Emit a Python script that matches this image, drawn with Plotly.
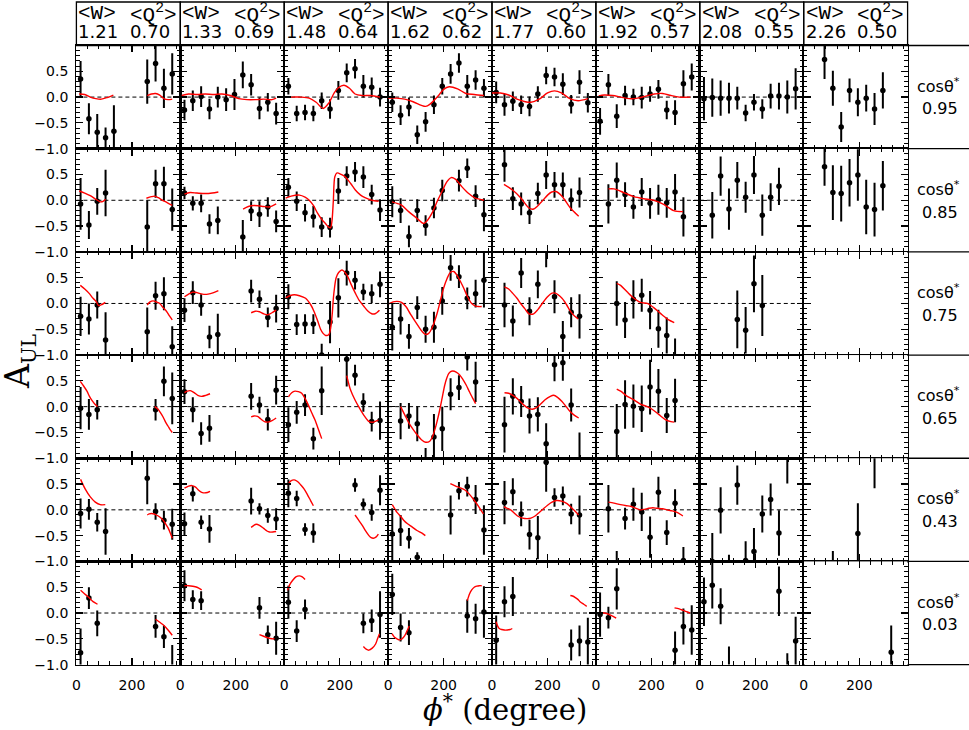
import plotly.graph_objects as go

N = None
PHI = [15, 45, 75, 105, 135, 165, 195, 225, 255, 285, 315, 345]
W_MEAN = ["1.21", "1.33", "1.48", "1.62", "1.77", "1.92", "2.08", "2.26"]
Q2_MEAN = ["0.70", "0.69", "0.64", "0.62", "0.60", "0.57", "0.55", "0.50"]
COS_THETA = ["0.95", "0.85", "0.75", "0.65", "0.43", "0.03"]
X_TICKS = [0, 200]
Y_TICKS = [-1.0, -0.5, 0.0, 0.5, 1.0]
Y_TICKTEXT = ["\u22121.0", "\u22120.5", "0.0", "0.5", ""]

# ---------------- cos(theta*) = 0.95 ----------------
A_095 = [
    [0.35, -0.42, -0.68, -0.79, -0.66, N, N, N, 0.30, 0.65, 0.17, 0.45],
    [-0.25, -0.07, 0.01, -0.23, 0.0, -0.05, 0.05, 0.43, 0.24, -0.22, -0.10, -0.32],
    [0.21, -0.32, -0.30, -0.32, -0.07, -0.23, 0.13, 0.47, 0.55, 0.21, 0.19, 0.0],
    [-0.10, -0.35, -0.19, -0.73, -0.48, -0.15, 0.21, 0.45, 0.66, 0.21, 0.33, 0.17],
    [0.09, -0.15, -0.08, -0.15, -0.18, 0.06, 0.42, 0.39, 0.25, -0.14, 0.29, -0.11],
    [-0.47, 0.24, -0.37, 0.03, 0.0, -0.01, 0.06, 0.15, -0.25, -0.30, 0.26, 0.39],
    [-0.03, -0.01, -0.02, -0.02, -0.02, -0.31, -0.10, -0.23, 0.02, 0.02, 0.0, 0.16],
    [N, N, 0.73, 0.17, -0.58, 0.13, -0.10, -0.02, -0.23, 0.13, N, N],
]
E_095 = [
    [0.35, 0.30, 0.35, 0.20, 0.50, N, N, N, 0.43, 0.35, 0.38, 0.40],
    [0.20, 0.20, 0.20, 0.20, 0.20, 0.22, 0.30, 0.26, 0.21, 0.21, 0.18, 0.21],
    [0.16, 0.15, 0.15, 0.15, 0.16, 0.19, 0.18, 0.18, 0.19, 0.22, 0.19, 0.18],
    [0.19, 0.19, 0.18, 0.18, 0.19, 0.18, 0.16, 0.19, 0.19, 0.22, 0.19, 0.18],
    [0.21, 0.21, 0.19, 0.18, 0.19, 0.15, 0.17, 0.18, 0.21, 0.18, 0.23, 0.19],
    [0.26, 0.21, 0.23, 0.19, 0.16, 0.21, 0.15, 0.18, 0.18, 0.24, 0.26, 0.26],
    [0.42, 0.37, 0.34, 0.30, 0.22, 0.16, 0.16, 0.19, 0.24, 0.26, 0.32, 0.40],
    [N, N, 0.38, 0.34, 0.29, 0.23, 0.27, 0.26, 0.31, 0.35, N, N],
]
C_095 = [
    [[[10, 30, 50, 70, 90, 110, 133], [0.06, 0.05, 0.0, -0.03, -0.04, -0.01, 0.04]],
     [[255, 270, 285, 300, 315, 330, 345], [0.03, 0.06, 0.07, 0.04, -0.03, -0.05, -0.04]]],
    [[[5, 30, 60, 90, 120, 150, 180, 210, 240, 270, 300, 330, 345],
      [0.03, 0.06, 0.05, 0.06, 0.05, 0.06, 0.03, -0.03, -0.05, -0.05, -0.04, -0.05, -0.02]]],
    [[[0, 30, 60, 90, 115, 140, 160, 180, 195, 215, 235, 255, 280, 310, 345],
      [0.0, 0.0, 0.0, -0.02, -0.10, -0.22, -0.12, 0.08, 0.18, 0.23, 0.17, 0.06, 0.03, 0.03, 0.0]]],
    [[[0, 30, 60, 90, 120, 135, 150, 180, 200, 220, 250, 280, 310, 345],
      [-0.02, -0.02, -0.04, -0.09, -0.16, -0.18, -0.14, 0.02, 0.15, 0.20, 0.16, 0.07, 0.05, 0.03]]],
    [[[0, 30, 60, 90, 120, 140, 170, 200, 225, 250, 280, 310, 345],
      [0.08, 0.08, 0.04, -0.04, -0.09, -0.10, -0.04, 0.08, 0.12, 0.08, -0.03, -0.07, -0.03]]],
    [[[10, 30, 60, 90, 120, 150, 180, 210, 240, 270, 300, 340],
      [0.02, 0.04, 0.03, 0.0, -0.03, -0.02, 0.02, 0.06, 0.07, 0.03, 0.0, 0.0]]],
    [],
    [],
]

# ---------------- cos(theta*) = 0.85 ----------------
A_085 = [
    [-0.07, -0.48, -0.02, 0.14, N, N, N, N, -0.52, 0.32, 0.32, -0.18],
    [0.14, -0.06, -0.06, -0.46, -0.39, N, N, -0.71, -0.21, -0.27, -0.13, -0.41],
    [0.25, -0.02, -0.24, -0.32, -0.52, -0.53, 0.18, 0.47, 0.55, 0.45, 0.11, -0.19],
    [-0.03, -0.20, -0.70, -0.20, -0.49, -0.15, 0.19, N, 0.38, 0.62, 0.08, -0.28],
    [N, 0.69, 0.03, -0.07, -0.24, 0.13, 0.49, 0.30, 0.30, 0.01, 0.15, N],
    [N, -0.07, 0.39, 0.11, -0.13, 0.16, -0.06, 0.01, -0.05, 0.16, -0.32, N],
    [N, -0.29, 0.47, -0.17, 0.39, 0.06, 0.49, -0.29, 0.06, 0.27, N, N],
    [N, N, 0.65, 0.15, 0.13, 0.34, 0.49, -0.13, -0.18, 0.28, N, N],
]
E_085 = [
    [0.50, 0.27, 0.26, 0.45, N, N, N, N, 0.52, 0.27, 0.33, 0.41],
    [0.12, 0.14, 0.17, 0.19, 0.27, N, N, 0.33, 0.19, 0.25, 0.19, 0.21],
    [0.18, 0.19, 0.17, 0.21, 0.19, 0.19, 0.25, 0.19, 0.19, 0.21, 0.19, 0.21],
    [0.30, 0.24, 0.21, 0.22, 0.20, 0.20, 0.21, N, 0.21, 0.19, 0.21, 0.32],
    [N, 0.33, 0.22, 0.22, 0.22, 0.21, 0.27, 0.25, 0.24, 0.22, 0.29, N],
    [N, 0.38, 0.34, 0.24, 0.23, 0.27, 0.30, 0.29, 0.29, 0.35, 0.38, N],
    [N, 0.45, 0.38, 0.40, 0.35, 0.30, 0.37, 0.40, 0.27, 0.36, N, N],
    [N, N, 0.37, 0.53, 0.54, 0.46, 0.50, 0.53, 0.52, 0.48, N, N],
]
C_085 = [
    [[[10, 30, 50, 70, 86, 96, 105], [0.18, 0.14, 0.09, 0.02, -0.03, -0.02, 0.02]],
     [[252, 270, 282, 295, 310, 325, 345], [0.04, 0.07, 0.08, 0.05, 0.0, -0.04, -0.10]]],
    [[[15, 35, 60, 90, 115, 137], [0.12, 0.15, 0.14, 0.13, 0.14, 0.16]],
     [[226, 245, 265, 285, 300, 320, 345], [-0.17, -0.12, -0.10, -0.11, -0.12, -0.13, -0.07]]],
    [[[5, 25, 55, 75, 90, 105, 120, 135, 150, 160, 167, 172, 177, 182, 190, 205, 220, 240, 256, 275, 291, 315, 340],
      [0.04, 0.08, 0.10, 0.06, 0.0, -0.10, -0.25, -0.37, -0.46, -0.52, -0.53, -0.40, 0.0, 0.45, 0.53, 0.50, 0.45, 0.32, 0.20, 0.10, 0.05, 0.0, -0.02]]],
    [[[14, 47, 74, 104, 128, 140, 158, 176, 194, 212, 227, 242, 266, 290, 314, 338, 345],
      [-0.03, -0.09, -0.22, -0.35, -0.45, -0.40, -0.25, -0.03, 0.17, 0.36, 0.44, 0.41, 0.26, 0.13, 0.04, 0.01, 0.0]]],
    [[[43, 74, 103, 133, 150, 175, 200, 215, 230, 252, 282, 312],
      [0.31, 0.20, 0.05, -0.15, -0.17, -0.05, 0.10, 0.16, 0.17, 0.08, -0.15, -0.31]]],
    [[[45, 65, 100, 137, 172, 208, 244, 280, 313],
      [0.22, 0.22, 0.15, 0.07, 0.03, 0.0, -0.08, -0.20, -0.22]]],
    [],
    [],
]

# ---------------- cos(theta*) = 0.75 ----------------
A_075 = [
    [-0.25, -0.30, -0.03, -0.71, N, N, N, N, -0.55, 0.15, 0.19, -0.84],
    [-0.13, 0.21, -0.03, -0.65, -0.60, N, N, N, 0.24, 0.08, -0.27, -0.10],
    [0.13, -0.41, -0.40, -0.40, -1.0, -0.36, 0.11, 0.59, 0.45, 0.22, 0.19, 0.37],
    [-0.46, -0.30, -0.64, -0.08, -0.50, -0.46, 0.05, 0.69, 0.52, 0.10, 0.19, 0.45],
    [N, -0.03, -0.34, 0.59, -0.15, 0.37, 1.15, 0.13, -0.64, -0.17, -0.25, N],
    [N, N, 0.0, -0.32, 0.08, 0.16, -0.13, -0.49, -0.62, -1.15, N, N],
    [N, N, N, N, -0.31, -0.52, 0.38, -0.04, N, N, N, N],
    [N, N, N, N, N, N, N, N, N, N, N, N],
]
E_075 = [
    [0.38, 0.30, 0.26, 0.54, N, N, N, N, 0.47, 0.27, 0.32, 0.40],
    [0.23, 0.22, 0.21, 0.22, 0.40, N, N, N, 0.22, 0.17, 0.19, 0.27],
    [0.24, 0.20, 0.19, 0.19, 0.22, 0.41, 0.38, 0.24, 0.18, 0.16, 0.18, 0.25],
    [0.45, 0.30, 0.24, 0.22, 0.26, 0.30, 0.27, 0.25, 0.22, 0.21, 0.27, 0.53],
    [N, 0.43, 0.30, 0.29, 0.27, 0.27, 0.45, 0.32, 0.30, 0.29, 0.43, N],
    [N, N, 0.43, 0.35, 0.37, 0.32, 0.37, 0.37, 0.35, 0.47, N, N],
    [N, N, N, N, 0.56, 0.45, 0.55, 0.59, N, N, N, N],
    [N, N, N, N, N, N, N, N, N, N, N, N],
]
C_075 = [
    [[[14, 30, 45, 60, 72, 80, 92, 104], [0.35, 0.28, 0.20, 0.10, 0.03, -0.04, -0.02, 0.02]],
     [[255, 265, 276, 288, 300, 312, 324, 335, 345], [-0.03, 0.03, 0.05, 0.03, 0.0, -0.08, -0.15, -0.24, -0.32]]],
    [[[15, 30, 45, 60, 80, 100, 120, 137], [0.13, 0.18, 0.22, 0.21, 0.18, 0.18, 0.21, 0.25]],
     [[255, 270, 285, 300, 315, 330, 345], [-0.18, -0.15, -0.16, -0.20, -0.22, -0.18, -0.13]]],
    [[[6, 20, 36, 55, 77, 95, 107, 120, 131, 140, 149, 161, 168, 173, 177, 181, 187, 196, 208, 226, 240, 256, 270, 286, 300, 315, 327, 343],
      [0.11, 0.15, 0.17, 0.15, 0.10, -0.02, -0.15, -0.33, -0.50, -0.58, -0.62, -0.60, -0.45, -0.20, 0.10, 0.30, 0.50, 0.60, 0.65, 0.55, 0.38, 0.20, 0.06, -0.05, -0.14, -0.20, -0.20, -0.13]]],
    [[[2, 18, 32, 48, 64, 80, 95, 110, 122, 134, 146, 160, 176, 188, 200, 212, 224, 236, 248, 260, 272, 286, 301, 315, 325, 337],
      [-0.01, 0.03, 0.04, 0.02, -0.06, -0.20, -0.33, -0.45, -0.54, -0.60, -0.58, -0.45, -0.20, 0.05, 0.30, 0.48, 0.60, 0.62, 0.55, 0.43, 0.30, 0.13, 0.0, -0.05, -0.06, -0.06]]],
    [[[45, 60, 74, 90, 103, 118, 133, 150, 165, 181, 200, 216, 228, 252, 268, 282, 296, 310],
      [0.32, 0.28, 0.20, 0.10, 0.0, -0.10, -0.20, -0.20, -0.12, 0.0, 0.13, 0.20, 0.20, 0.10, -0.02, -0.15, -0.24, -0.30]]],
    [[[75, 89, 113, 137, 160, 185, 208, 238, 262, 282],
      [0.39, 0.35, 0.22, 0.10, 0.02, 0.0, -0.08, -0.22, -0.32, -0.37]]],
    [],
    [],
]

# ---------------- cos(theta*) = 0.65 ----------------
A_065 = [
    [-0.03, -0.15, -0.06, N, N, N, N, N, N, -0.06, 0.49, 0.16],
    [0.29, -0.06, -0.52, -0.42, N, N, N, N, 0.20, 0.03, -0.25, 0.32],
    [-0.35, -0.11, 0.03, -0.62, 0.31, N, N, 0.92, 0.61, 0.08, -0.29, -0.27],
    [N, -0.28, -0.18, -0.33, -1.15, -0.59, -0.43, 0.24, 0.37, 0.96, 0.48, N],
    [N, -0.35, 0.20, 0.10, -0.18, -0.15, -0.72, 0.81, 0.85, 0.03, -1.20, N],
    [N, N, -0.48, 0.04, 0.01, -0.04, 0.38, 0.30, -0.17, 0.12, N, N],
    [N, N, N, N, N, N, N, N, N, N, N, N],
    [N, N, N, N, N, N, N, N, N, N, N, N],
]
E_065 = [
    [0.41, 0.30, 0.19, N, N, N, N, N, N, 0.21, 0.29, 0.50],
    [0.24, 0.24, 0.22, 0.26, N, N, N, N, 0.26, 0.16, 0.21, 0.28],
    [0.34, 0.22, 0.21, 0.21, 0.47, N, N, 0.53, 0.20, 0.18, 0.19, 0.37],
    [N, 0.35, 0.25, 0.34, 0.35, 0.45, 0.43, 0.31, 0.24, 0.26, 0.39, N],
    [N, 0.54, 0.35, 0.30, 0.34, 0.33, 0.40, 0.32, 0.35, 0.32, 0.70, N],
    [N, N, 0.53, 0.47, 0.42, 0.45, 0.53, 0.43, 0.34, 0.42, N, N],
    [N, N, N, N, N, N, N, N, N, N, N, N],
    [N, N, N, N, N, N, N, N, N, N, N, N],
]
C_065 = [
    [[[14, 26, 38, 47, 56, 66, 76], [0.49, 0.40, 0.30, 0.20, 0.12, 0.05, 0.0]],
     [[282, 294, 303, 312, 321, 330, 338, 345], [0.0, -0.05, -0.12, -0.20, -0.30, -0.38, -0.45, -0.50]]],
    [[[15, 25, 36, 50, 63, 77, 92, 107], [0.27, 0.30, 0.31, 0.27, 0.22, 0.20, 0.22, 0.25]],
     [[255, 266, 278, 290, 303, 315, 330, 345], [-0.20, -0.18, -0.19, -0.24, -0.29, -0.30, -0.27, -0.22]]],
    [[[15, 27, 39, 51, 63, 75, 87, 99, 111, 123, 135],
      [0.19, 0.27, 0.30, 0.29, 0.26, 0.16, 0.03, -0.12, -0.26, -0.44, -0.62]],
     [[225, 231, 237, 246, 255, 267, 279, 291, 303, 312, 321, 330, 339],
      [0.60, 0.47, 0.35, 0.23, 0.13, 0.01, -0.10, -0.20, -0.28, -0.30, -0.30, -0.28, -0.26]]],
    [[[45, 60, 75, 90, 105, 120, 135, 150, 160, 168, 177, 186, 195, 204, 211, 218, 225, 233, 245, 257, 269, 281, 290, 299, 307, 315],
      [0.0, -0.16, -0.32, -0.44, -0.55, -0.64, -0.69, -0.67, -0.58, -0.45, -0.27, -0.06, 0.18, 0.42, 0.55, 0.64, 0.68, 0.69, 0.67, 0.62, 0.53, 0.42, 0.32, 0.22, 0.14, 0.06]]],
    [[[45, 60, 75, 90, 98, 115, 130, 145, 160, 175, 190, 210, 222, 236, 252, 267, 282, 297, 312],
      [0.27, 0.26, 0.22, 0.16, 0.12, 0.03, -0.03, -0.05, -0.02, 0.05, 0.13, 0.20, 0.22, 0.18, 0.10, 0.0, -0.10, -0.17, -0.22]]],
    [[[75, 89, 113, 137, 160, 185, 202, 226, 250, 270, 282],
      [0.34, 0.30, 0.20, 0.13, 0.05, 0.0, -0.05, -0.15, -0.25, -0.29, -0.30]]],
    [],
    [],
]

# ---------------- cos(theta*) = 0.43 ----------------
A_043 = [
    [-0.07, 0.01, -0.24, -0.42, N, N, N, N, 0.61, -0.03, -0.20, -0.28],
    [-0.27, 0.31, -0.24, -0.37, N, N, N, N, 0.17, 0.02, -0.11, -0.18],
    [0.32, 0.22, -0.38, -0.45, N, N, N, N, 0.48, 0.11, -0.05, 0.38],
    [-0.47, -0.40, -0.55, -0.92, N, N, N, -0.10, 0.37, 0.45, 0.20, -0.39],
    [N, 0.14, 0.35, -0.08, -0.48, -0.54, 0.92, 0.24, 0.27, -0.08, -0.10, N],
    [N, 0.02, -1.15, -0.17, 0.11, -0.04, -0.53, 0.34, -0.44, 0.13, -0.98, N],
    [N, -1.0, -0.01, -1.15, 0.48, -0.98, -0.81, -0.08, 0.20, -0.45, 1.15, N],
    [N, N, N, -1.15, N, N, -0.46, N, 1.15, N, N, N],
]
E_043 = [
    [0.29, 0.20, 0.18, 0.45, N, N, N, N, 0.50, 0.16, 0.18, 0.30],
    [0.22, 0.15, 0.13, 0.27, N, N, N, N, 0.26, 0.11, 0.14, 0.21],
    [0.27, 0.15, 0.12, 0.19, N, N, N, N, 0.13, 0.11, 0.16, 0.29],
    [0.50, 0.30, 0.20, 0.10, N, N, N, 0.38, 0.17, 0.19, 0.28, 0.48],
    [N, 0.42, 0.26, 0.24, 0.29, 0.42, 0.57, 0.18, 0.18, 0.20, 0.38, N],
    [N, 0.46, 0.35, 0.21, 0.32, 0.37, 0.40, 0.30, 0.24, 0.27, 0.26, N],
    [N, 0.55, 0.45, 0.28, 0.38, 0.37, 0.46, 0.36, 0.31, 0.44, 0.64, N],
    [N, N, N, 0.35, N, N, 0.59, N, 0.73, N, N, N],
]
C_043 = [
    [[[15, 32, 50, 68, 86, 104], [0.59, 0.40, 0.25, 0.15, 0.10, 0.10]],
     [[255, 262, 270, 280, 288, 300, 312, 321, 330, 338, 345], [-0.10, -0.08, -0.07, -0.08, -0.10, -0.14, -0.20, -0.27, -0.35, -0.45, -0.55]]],
    [[[15, 30, 42, 55, 66, 77, 92, 107], [0.42, 0.46, 0.47, 0.44, 0.38, 0.34, 0.33, 0.36]],
     [[255, 265, 273, 285, 300, 312, 321, 333, 345], [-0.34, -0.30, -0.28, -0.30, -0.36, -0.41, -0.43, -0.43, -0.42]]],
    [[[12, 24, 36, 48, 60, 72, 83, 95, 105], [0.48, 0.56, 0.58, 0.55, 0.48, 0.40, 0.30, 0.18, 0.08]],
     [[255, 268, 281, 293, 305, 313, 321, 330, 339], [-0.10, -0.20, -0.30, -0.41, -0.50, -0.54, -0.55, -0.53, -0.47]]],
    [[[15, 24, 32, 44, 56, 70, 86, 104, 122, 134], [0.10, 0.02, -0.05, -0.12, -0.20, -0.27, -0.33, -0.40, -0.45, -0.50]],
     [[224, 236, 248, 263, 278, 293, 308, 325, 343], [0.51, 0.48, 0.45, 0.42, 0.38, 0.30, 0.20, 0.07, -0.08]]],
    [[[43, 55, 67, 80, 92, 110, 127, 140, 155, 168, 181, 200, 216, 232, 250, 270, 294, 312],
      [0.06, 0.03, 0.0, -0.06, -0.12, -0.16, -0.17, -0.16, -0.12, -0.06, 0.0, 0.09, 0.15, 0.18, 0.17, 0.12, 0.0, -0.10]]],
    [[[45, 65, 89, 110, 125, 145, 161, 175, 190, 205, 220, 240, 256, 275, 292, 305, 313],
      [0.15, 0.13, 0.10, 0.08, 0.07, 0.03, 0.0, 0.01, 0.03, 0.04, 0.03, 0.02, 0.0, -0.02, -0.05, -0.09, -0.12]]],
    [],
    [],
]

# ---------------- cos(theta*) = 0.03 ----------------
A_003 = [
    [-0.77, 0.29, -0.20, N, N, N, N, N, N, -0.26, -0.46, -1.10],
    [0.53, 0.26, 0.24, N, N, N, N, N, N, 0.10, -0.42, -0.49],
    [0.21, -0.35, 0.07, N, N, N, N, N, N, -0.20, -0.15, -0.03],
    [0.36, -0.28, -0.38, N, N, N, N, N, N, -0.06, -0.11, 0.02],
    [-0.53, 0.22, 0.32, N, N, N, N, N, N, -0.62, -0.54, -0.56],
    [-0.03, -0.09, 0.47, N, N, N, N, N, N, -0.72, -0.26, -0.33],
    [0.22, 0.54, 0.13, -1.15, N, N, N, N, N, 0.42, -1.15, -0.54],
    [N, N, N, N, N, N, N, N, N, N, -0.76, N],
]
E_003 = [
    [0.47, 0.21, 0.25, N, N, N, N, N, N, 0.22, 0.22, 0.48],
    [0.30, 0.18, 0.18, N, N, N, N, N, N, 0.21, 0.18, 0.32],
    [0.32, 0.21, 0.19, N, N, N, N, N, N, 0.19, 0.22, 0.45],
    [0.40, 0.27, 0.24, N, N, N, N, N, N, 0.32, 0.29, 0.50],
    [0.48, 0.30, 0.38, N, N, N, N, N, N, 0.30, 0.30, 0.47],
    [0.43, 0.21, 0.40, N, N, N, N, N, N, 0.36, 0.35, 0.48],
    [0.47, 0.45, 0.35, 0.50, N, N, N, N, N, 0.48, 0.37, 0.47],
    [N, N, N, N, N, N, N, N, N, N, 0.52, N],
]
C_003 = [
    [[[15, 30, 45, 60, 76], [0.44, 0.37, 0.30, 0.22, 0.17]],
     [[285, 300, 315, 330, 345], [-0.12, -0.18, -0.24, -0.33, -0.43]]],
    [[[15, 30, 45, 60, 77], [0.53, 0.53, 0.52, 0.50, 0.45]],
     [[285, 300, 315, 330, 339], [-0.42, -0.45, -0.48, -0.50, -0.50]]],
    [[[12, 20, 30, 42, 54, 65, 75], [0.44, 0.55, 0.63, 0.70, 0.72, 0.70, 0.65]],
     [[285, 295, 305, 317, 329, 336, 343], [-0.65, -0.70, -0.72, -0.68, -0.60, -0.50, -0.40]]],
    [[[14, 23, 32, 41, 50, 60, 68, 76], [-0.40, -0.47, -0.50, -0.52, -0.50, -0.44, -0.35, -0.25]],
     [[285, 293, 301, 310, 319, 328, 337], [0.24, 0.37, 0.45, 0.50, 0.52, 0.53, 0.53]]],
    [[[15, 20, 26, 35, 44, 55, 65, 73], [-0.17, -0.25, -0.30, -0.32, -0.33, -0.33, -0.32, -0.30]],
     [[282, 290, 300, 310, 317, 330, 341], [0.34, 0.33, 0.30, 0.26, 0.22, 0.17, 0.13]]],
    [[[13, 30, 45, 60, 73], [0.01, 0.0, -0.02, -0.06, -0.10]],
     [[283, 300, 315, 330, 339], [0.10, 0.08, 0.05, 0.02, 0.0]]],
    [],
    [],
]

ROWS_A = [A_095, A_085, A_075, A_065, A_043, A_003]
ROWS_E = [E_095, E_085, E_075, E_065, E_043, E_003]
ROWS_C = [C_095, C_085, C_075, C_065, C_043, C_003]

# ---------------- layout geometry (pixels) ----------------
WIDTH, HEIGHT = 969, 730
X0, PW = 72.7, 104.33
Y0, PH = 46.0, 104.33
NCOL, NROW = 8, 6
XMAX = 374
SANS = "DejaVu Sans"
SERIF = "DejaVu Serif"


def px(x):
    return x / WIDTH


def py(y):
    return 1 - y / HEIGHT


fig = go.Figure()
layout = dict(
    width=WIDTH, height=HEIGHT,
    margin=dict(l=0, r=0, t=0, b=0),
    paper_bgcolor="white", plot_bgcolor="white",
    showlegend=False,
    font=dict(family=SANS, size=14, color="black"),
)
shapes = []
annotations = []

for r in range(NROW):
    for c in range(NCOL):
        k = r * NCOL + c + 1
        xs = "" if k == 1 else str(k)
        xa, ya = "x" + xs, "y" + xs
        left = X0 + c * PW
        top = Y0 + r * PH
        layout["xaxis" + xs] = dict(
            domain=[px(left), px(left + PW)], range=[0, XMAX], anchor=ya,
            showline=True, linecolor="black", linewidth=1.3, mirror="allticks",
            ticks="inside", ticklen=7, tickwidth=1.2, tickcolor="black",
            tickvals=X_TICKS, ticktext=[str(v) for v in X_TICKS],
            showticklabels=(r == NROW - 1), tickfont=dict(family=SANS, size=14),
            ticklabelstandoff=7,
            minor=dict(ticks="inside", ticklen=3.5, tickwidth=1, tickcolor="black",
                       tickvals=[40, 80, 120, 160, 240, 280, 320, 360]),
            showgrid=False, zeroline=False, fixedrange=True,
        )
        layout["yaxis" + xs] = dict(
            domain=[py(top + PH), py(top)], range=[-1, 1], anchor=xa,
            showline=True, linecolor="black", linewidth=1.3, mirror="allticks",
            ticks="inside", ticklen=7, tickwidth=1.2, tickcolor="black",
            tickvals=Y_TICKS, ticktext=Y_TICKTEXT,
            showticklabels=(c == 0), tickfont=dict(family=SANS, size=14), ticklabelstandoff=4,
            minor=dict(ticks="inside", ticklen=3.5, tickwidth=1, tickcolor="black", dtick=0.1, tick0=0),
            showgrid=False, zeroline=False, fixedrange=True,
        )
        # dashed zero line
        shapes.append(dict(type="line", xref=xa + " domain", yref=ya, x0=0, x1=1, y0=0, y1=0,
                           line=dict(color="black", width=1, dash="4px,3px"), layer="below"))
        vals = ROWS_A[r][c]
        errs = ROWS_E[r][c]
        xs_pts = [p for p, v in zip(PHI, vals) if v is not None]
        ys_pts = [v for v in vals if v is not None]
        es_pts = [e for v, e in zip(vals, errs) if v is not None]
        if xs_pts:
            fig.add_trace(go.Scatter(
                x=xs_pts, y=ys_pts, mode="markers", xaxis=xa, yaxis=ya,
                marker=dict(color="black", size=5.5),
                error_y=dict(type="data", array=es_pts, visible=True, color="black",
                             thickness=2, width=0),
                hoverinfo="skip", cliponaxis=True,
            ))
        for seg in ROWS_C[r][c]:
            fig.add_trace(go.Scatter(
                x=seg[0], y=seg[1], mode="lines", xaxis=xa, yaxis=ya,
                line=dict(color="red", width=1.4, shape="spline", smoothing=0.8),
                hoverinfo="skip",
            ))

# header boxes
for c in range(NCOL):
    left = X0 + c * PW
    shapes.append(dict(type="rect", xref="paper", yref="paper",
                       x0=px(left), x1=px(left + PW), y0=py(Y0), y1=py(2),
                       line=dict(color="black", width=1.3)))
    annotations.append(dict(text="&lt;W&gt;", xref="paper", yref="paper", x=px(left), y=py(14),
                            xanchor="left", yanchor="middle", showarrow=False,
                            font=dict(family="Liberation Mono", size=21)))
    annotations.append(dict(text="&lt;Q<sup>2</sup>&gt;", xref="paper", yref="paper", x=px(left + 52), y=py(14),
                            xanchor="left", yanchor="middle", showarrow=False,
                            font=dict(family="Liberation Mono", size=21)))
    annotations.append(dict(text=W_MEAN[c], xref="paper", yref="paper", x=px(left), y=py(32),
                            xanchor="left", yanchor="middle", showarrow=False,
                            font=dict(family=SANS, size=18)))
    annotations.append(dict(text=Q2_MEAN[c], xref="paper", yref="paper", x=px(left + 52), y=py(32),
                            xanchor="left", yanchor="middle", showarrow=False,
                            font=dict(family=SANS, size=18)))

# right label column
XR = X0 + NCOL * PW
for r in range(NROW + 1):
    yb = Y0 + r * PH
    shapes.append(dict(type="line", xref="paper", yref="paper", x0=px(XR), x1=1, y0=py(yb), y1=py(yb),
                       line=dict(color="black", width=1.3)))
for r in range(NROW):
    yc = Y0 + r * PH + PH / 2
    annotations.append(dict(text="cos\u03b8<sup>*</sup>", xref="paper", yref="paper", x=px(938), y=py(yc - 12),
                            xanchor="center", yanchor="middle", showarrow=False,
                            font=dict(family=SANS, size=16)))
    annotations.append(dict(text=COS_THETA[r], xref="paper", yref="paper", x=px(940), y=py(yc + 12),
                            xanchor="center", yanchor="middle", showarrow=False,
                            font=dict(family=SANS, size=16)))

# axis titles
annotations.append(dict(text="A<sub><span style='font-size:20px'>UL</span></sub>", xref="paper", yref="paper",
                        x=px(15), y=py(365),
                        xanchor="center", yanchor="middle", showarrow=False, textangle=-90,
                        font=dict(family=SERIF, size=33)))
annotations.append(dict(text="<i>\u03d5</i><sup>*</sup> (degree)", xref="paper", yref="paper", x=px(503), y=py(716),
                        xanchor="center", yanchor="middle", showarrow=False,
                        font=dict(family=SERIF, size=29)))

layout["shapes"] = shapes
layout["annotations"] = annotations
fig.update_layout(**layout)
fig.write_html(
    "out.html",
    config={"displayModeBar": False, "staticPlot": True},
    post_script="document.body.style.margin='0';document.body.style.padding='0';document.body.style.overflow='hidden';",
)
